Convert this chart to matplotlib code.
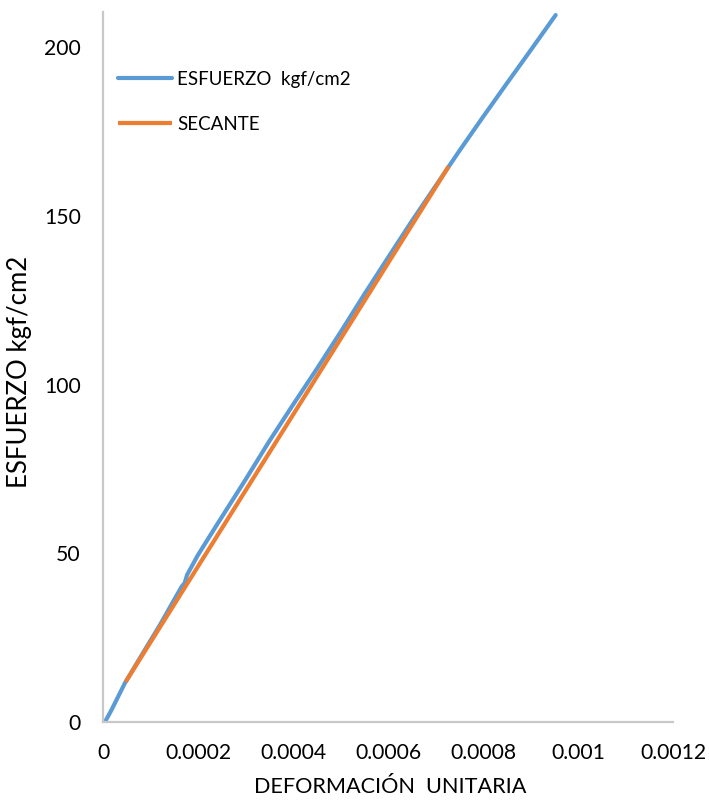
import matplotlib
matplotlib.use("Agg")
import matplotlib.pyplot as plt
from matplotlib.textpath import TextPath
from matplotlib.font_manager import FontProperties

# Data
strain = [0.0, 0.000006, 0.000018, 0.000046, 0.00008, 0.00012, 0.000155, 0.000166,
          0.000172, 0.000177, 0.00020, 0.00024, 0.00030, 0.00035, 0.00040, 0.00045,
          0.00050, 0.00055, 0.00060, 0.00065, 0.00070, 0.00075, 0.00080, 0.00085,
          0.00090, 0.000953]
stress = [0.0, 0.5, 3.6, 11.5, 19.5, 28.8, 37.5, 40.2, 41.2, 43.6, 49.5, 58.5,
          71.8, 83.2, 94.0, 104.6, 115.5, 126.7, 137.6, 148.4, 158.8, 169.2,
          179.3, 189.2, 199.0, 209.5]

secant_x = [0.0000478, 0.000728]
secant_y = [11.9, 164.7]

xticks = [0, 0.0002, 0.0004, 0.0006, 0.0008, 0.001, 0.0012]
xtick_labels = ["0", "0.0002", "0.0004", "0.0006", "0.0008", "0.001", "0.0012"]
yticks = [0, 50, 100, 150, 200]

FAMILY = ['Lato', 'DejaVu Sans']
plt.rcParams['font.family'] = FAMILY
DPI = 100
W, H = 709, 805


def size_for_width(text, target_px):
    tp = TextPath((0, 0), text, size=100, prop=FontProperties(family=FAMILY))
    w_px = tp.get_extents().width * DPI / 72.0
    return 100 * target_px / w_px


tick_fs = size_for_width("0.0004", 65)
leg_fs = size_for_width("SECANTE", 81)
xlab_fs = size_for_width("DEFORMACIÓN  UNITARIA", 270)
ylab_fs = size_for_width("ESFUERZO kgf/cm2", 228)

fig = plt.figure(figsize=(W/DPI, H/DPI), dpi=DPI)
ax = fig.add_axes([103/W, 1-722/H, 570/W, 710/H])

ax.plot(strain, stress, color='#5B9BD5', lw=3, label='ESFUERZO  kgf/cm2',
        solid_capstyle='round', solid_joinstyle='round', zorder=2)
ax.plot(secant_x, secant_y, color='#ED7D31', lw=3, label='SECANTE',
        solid_capstyle='butt', zorder=3)

ax.set_xlim(0, 0.0012)
ax.set_ylim(0, 210.4)
ax.set_xticks(xticks)
ax.set_xticklabels(xtick_labels)
ax.set_yticks(yticks)

for s in ['top', 'right']:
    ax.spines[s].set_visible(False)
for s in ['left', 'bottom']:
    ax.spines[s].set_color('#C8C8C8')
    ax.spines[s].set_linewidth(1.6)

ax.tick_params(axis='both', length=0, labelsize=tick_fs, colors='#000000')
ax.tick_params(axis='x', pad=15)
ax.tick_params(axis='y', pad=16)

ax.set_xlabel('DEFORMACIÓN  UNITARIA', fontsize=xlab_fs)
ax.xaxis.label.set_va('center')
ax.xaxis.set_label_coords((390-103)/570, (722-787)/710)
ax.set_ylabel('ESFUERZO kgf/cm2', fontsize=ylab_fs)
ax.yaxis.label.set_va('center')
ax.yaxis.set_label_coords((20-103)/570, (722-372)/710)

leg_px = leg_fs * DPI / 72.0
# target row centres (pixels from top) and handle start
row1, row2, hx = 79.0, 124.0, 118.0


def make_legend(anchor_y, spacing):
    return ax.legend(loc='upper left', bbox_to_anchor=((hx-103)/570, anchor_y),
                     frameon=False, fontsize=leg_fs, borderpad=0, borderaxespad=0,
                     handlelength=54/leg_px, handletextpad=5/leg_px,
                     labelspacing=spacing)


anchor_y = (722-(row1-0.5*leg_px))/710
spacing = (row2-row1-leg_px)/leg_px
leg = make_legend(anchor_y, spacing)
for _ in range(3):
    fig.canvas.draw()
    r = fig.canvas.get_renderer()
    ext = [t.get_window_extent(r) for t in leg.get_texts()]
    c1 = H - 0.5*(ext[0].y0+ext[0].y1)
    c2 = H - 0.5*(ext[1].y0+ext[1].y1)
    spacing += ((row2-row1) - (c2-c1))/leg_px
    anchor_y -= (row1 - c1)/710
    leg.remove()
    leg = make_legend(anchor_y, spacing)

fig.savefig('out.png', dpi=DPI)
